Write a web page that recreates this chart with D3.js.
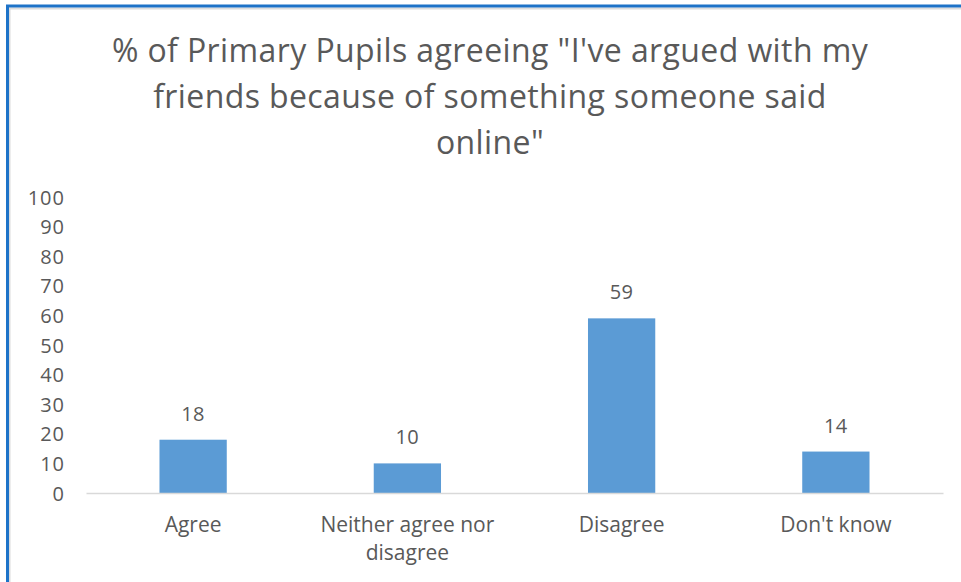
<!DOCTYPE html>
<html>
<head>
<meta charset="utf-8">
<script src="https://cdn.jsdelivr.net/npm/d3@7"></script>
<style>
  html, body { margin: 0; padding: 0; background: #fff; }
  svg { display: block; }
  text { font-family: "Open Sans", Lato, sans-serif; fill: #595959; }
</style>
</head>
<body>
<svg id="chart" width="961" height="582"></svg>
<script>
const titleLines = ["% of Primary Pupils agreeing \"I've argued with my", "friends because of something someone said", "online\""];
const categories = ["Agree", "Neither agree nor disagree", "Disagree", "Don't know"];
const categoryLines = [["Agree"], ["Neither agree nor", "disagree"], ["Disagree"], ["Don't know"]];
const values = [18, 10, 59, 14];
const yTicks = [0, 10, 20, 30, 40, 50, 60, 70, 80, 90, 100];

const svg = d3.select("#chart");
const W = 961, H = 582;

// frame: blue edge on top and left with a faint grey inner line
svg.append("rect").attr("width", W).attr("height", H).attr("fill", "#fff");
svg.append("line").attr("x1", 9).attr("x2", W).attr("y1", 8.5).attr("y2", 8.5).attr("stroke", "#dcdcdc").attr("stroke-width", 2);
svg.append("line").attr("x1", 9.5).attr("x2", 9.5).attr("y1", 8).attr("y2", H).attr("stroke", "#dcdcdc").attr("stroke-width", 2);
svg.append("line").attr("x1", 6).attr("x2", W).attr("y1", 6).attr("y2", 6).attr("stroke", "#1e73c8").attr("stroke-width", 3);
svg.append("line").attr("x1", 7.5).attr("x2", 7.5).attr("y1", 5).attr("y2", H).attr("stroke", "#1e73c8").attr("stroke-width", 3);

const plot = { left: 86, right: 943, top: 197, bottom: 493 };

const x = d3.scaleBand().domain(categories).range([plot.left, plot.right]).paddingInner(0.686).paddingOuter(0.343);
const y = d3.scaleLinear().domain([0, 100]).range([plot.bottom, plot.top]);

// title
const title = svg.append("text").attr("text-anchor", "middle")
  .style("font-size", "32px").style("letter-spacing", "0.4px");
titleLines.forEach((t, i) => {
  title.append("tspan").attr("x", 490).attr("y", 62 + i * 46).text(t);
});

// y axis labels
const yAxis = d3.axisLeft(y).tickValues(yTicks).tickSize(0).tickPadding(0);
const yg = svg.append("g").attr("transform", `translate(65,0)`).call(yAxis);
yg.select(".domain").remove();
yg.selectAll("text")
  .style("font-size", "20px").style("letter-spacing", "1px")
  .style("font-family", "'Open Sans', sans-serif")
  .attr("fill", "#595959").attr("dy", "0.35em");

// bars
svg.append("g").selectAll("rect").data(values).join("rect")
  .attr("x", (d, i) => x(categories[i]))
  .attr("y", d => y(d))
  .attr("width", x.bandwidth())
  .attr("height", d => y(0) - y(d))
  .attr("fill", "#5b9bd5");

// baseline
const xAxis = d3.axisBottom(x).tickSize(0).tickFormat("");
const xg = svg.append("g").attr("transform", `translate(0,${plot.bottom})`).call(xAxis);
xg.select(".domain").attr("stroke", "#d9d9d9").attr("stroke-width", 1.5);

// category labels
categoryLines.forEach((lines, i) => {
  const t = svg.append("text").attr("text-anchor", "middle").style("font-size", "21px");
  lines.forEach((ln, j) => {
    t.append("tspan").attr("x", x(categories[i]) + x.bandwidth() / 2).attr("y", 532 + j * 28).text(ln);
  });
});

// value labels
svg.append("g").selectAll("text").data(values).join("text")
  .attr("text-anchor", "middle")
  .attr("x", (d, i) => x(categories[i]) + x.bandwidth() / 2)
  .attr("y", d => y(d) - 19)
  .style("font-size", "20px").style("letter-spacing", "0.5px")
  .text(d => d);
</script>
</body>
</html>
